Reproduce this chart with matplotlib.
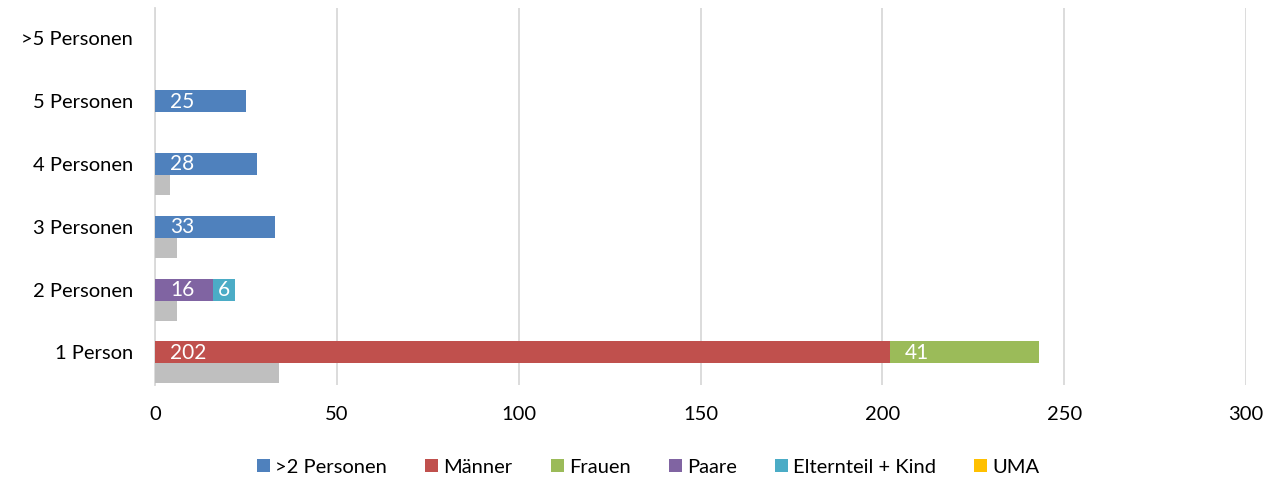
import numpy as np
import matplotlib.pyplot as plt

plt.rcParams['font.family'] = ['Lato', 'DejaVu Sans']

# Haushaltsgroesse (unten nach oben)
kategorien = ["1 Person", "2 Personen", "3 Personen", "4 Personen", "5 Personen", ">5 Personen"]

serien = [">2 Personen", "Männer", "Frauen", "Paare", "Elternteil + Kind", "UMA"]
farben = ["#4F81BD", "#C0504D", "#9BBB59", "#8064A2", "#4BACC6", "#FFC000"]

mehr_als_2 = [0, 0, 33, 28, 25, 0]
maenner = [202, 0, 0, 0, 0, 0]
frauen = [41, 0, 0, 0, 0, 0]
paare = [0, 16, 0, 0, 0, 0]
elternteil_kind = [0, 6, 0, 0, 0, 0]
uma = [0, 0, 0, 0, 0, 0]

# zweite Reihe (grau, ohne Legende)
grau = [34, 6, 6, 4, 0, 0]

werte = [mehr_als_2, maenner, frauen, paare, elternteil_kind, uma]

fig = plt.figure(figsize=(12.79, 4.84), dpi=100)
ax = fig.add_axes([0.1212, 0.2045, 0.8530, 0.779])

y = np.arange(len(kategorien))
links = np.zeros(len(kategorien))
for name, farbe, w in zip(serien, farben, werte):
    w = np.array(w, dtype=float)
    ax.barh(y, w, left=links, height=0.35, color=farbe, label=name, zorder=3)
    for yi, l, v in zip(y, links, w):
        if v <= 0:
            continue
        if v < 10:
            # schmale Balken: Wert mittig
            ax.text(l + v / 2, yi - 0.01, f"{v:.0f}", color="white", fontsize=15,
                    va="center", ha="center", zorder=4)
        else:
            ax.text(l + 4.2, yi - 0.01, f"{v:.0f}", color="white", fontsize=15,
                    va="center", ha="left", zorder=4)
    links += w

ax.barh(y - 0.335, grau, height=0.32, color="#BFBFBF", zorder=3)

ax.set_xlim(0, 300)
ax.set_ylim(-0.52, 5.48)
ax.set_xticks(np.arange(0, 301, 50))
ax.set_yticks(y)
ax.set_yticklabels(kategorien)
ax.tick_params(axis="both", length=0, labelsize=14.5, colors="black")
ax.tick_params(axis="y", pad=16)
ax.tick_params(axis="x", pad=15)
ax.grid(axis="x", color="#D9D9D9", linewidth=1.3, zorder=0)
for s in ["top", "right", "bottom"]:
    ax.spines[s].set_visible(False)
ax.spines["left"].set_color("#D9D9D9")
ax.spines["left"].set_linewidth(1.3)

ax.legend(loc="center", bbox_to_anchor=(0.452, -0.218), ncol=6, frameon=False,
          fontsize=14.5, handlelength=0.65, handleheight=0.65, handletextpad=0.25,
          columnspacing=1.9)

plt.savefig("out.png", dpi=100)
plt.close()
